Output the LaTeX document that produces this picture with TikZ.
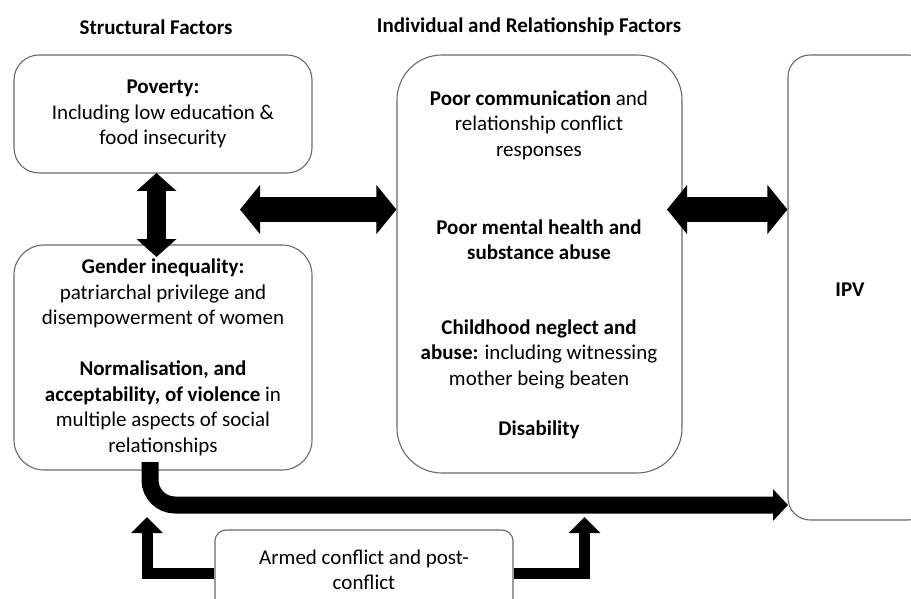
\documentclass[tikz,border=0pt]{standalone}
\usepackage{fontspec}
\setmainfont{Carlito}
\usetikzlibrary{arrows.meta}
\definecolor{edge}{RGB}{105,105,105}
\tikzset{
  box/.style={draw=edge, line width=1.1pt, fill=white, align=center, inner sep=0pt,
    font=\fontsize{21}{25.5}\selectfont},
  lbl/.style={align=center, inner sep=0pt, font=\fontsize{21}{25.5}\selectfont},
  head/.style={inner sep=0pt, font=\bfseries\fontsize{21}{24}\selectfont},
  bigdbl/.style={line width=25pt, {Triangle[width=48pt,length=20pt]}-{Triangle[width=48pt,length=20pt]}},
  vdbl/.style={line width=19pt, {Triangle[width=39pt,length=18pt]}-{Triangle[width=39pt,length=18pt]}},
  flow/.style={line width=17pt, rounded corners=25pt, -{Triangle[width=31pt,length=15pt]}},
  uparr/.style={line width=11pt, -{Triangle[width=31pt,length=16pt]}},
}
\begin{document}
\begin{tikzpicture}[x=1pt,y=-1pt]
\useasboundingbox (0,0) rectangle (911,599);
\clip (0,0) rectangle (911,599);
\fill[white] (0,0) rectangle (911,599);

\node[head] (h1) at (156,27) {Structural Factors};
\node[head] (h2) at (529,27) {Individual and Relationship Factors};

\node[box, rounded corners=25pt, minimum width=298pt, minimum height=118pt] (pov) at (163,114)
  {\textbf{Poverty:}\\Including low education \&\\food insecurity};
\node[box, rounded corners=30pt, minimum width=298pt, minimum height=225pt] (gen) at (163,357.5)
  {\textbf{Gender inequality:}\\patriarchal privilege and\\disempowerment of women\\[25.5pt]
   \textbf{Normalisation, and}\\\textbf{acceptability, of violence} in\\multiple aspects of social\\relationships};
\node[box, rounded corners=45pt, minimum width=285pt, minimum height=418pt] (mid) at (539.5,264) {};
\node[lbl] (m1) at (539,125) {\textbf{Poor communication} and\\relationship conflict\\responses};
\node[lbl] (m2) at (539,239.5) {\textbf{Poor mental health and}\\\textbf{substance abuse}};
\node[lbl] (m3) at (539,354) {\textbf{Childhood neglect and}\\\textbf{abuse:} including witnessing\\mother being beaten};
\node[lbl] (m4) at (539,430) {\textbf{Disability}};

\node[box, rounded corners=22pt, minimum width=142pt, minimum height=465pt] (ipv) at (859,287.5) {};
\node[lbl] (ipvt) at (850,290) {\textbf{IPV}};

\node[box, rounded corners=11pt, minimum width=298pt, minimum height=80pt] (arm) at (364,570)
  {Armed conflict and post-\\conflict};

\coordinate (va) at (156.5,173);
\coordinate (vb) at (156.5,257);
\coordinate (la) at (240,209.5);
\coordinate (ra) at (667,209.5);
\coordinate (ba) at (150,462);
\coordinate (bt) at (788,505);
\coordinate (lt) at (147,517);
\coordinate (rt) at (584.5,517);

\draw[vdbl] (va) -- (vb);
\draw[bigdbl] (la) -- (la -| mid.west);
\draw[bigdbl] (ra) -- (ra -| ipv.west);
\draw[flow] (ba) |- (bt);
\draw[uparr] ([yshift=-3pt]arm.west) -| (lt);
\draw[uparr] ([yshift=-3pt]arm.east) -| (rt);
\end{tikzpicture}
\end{document}
